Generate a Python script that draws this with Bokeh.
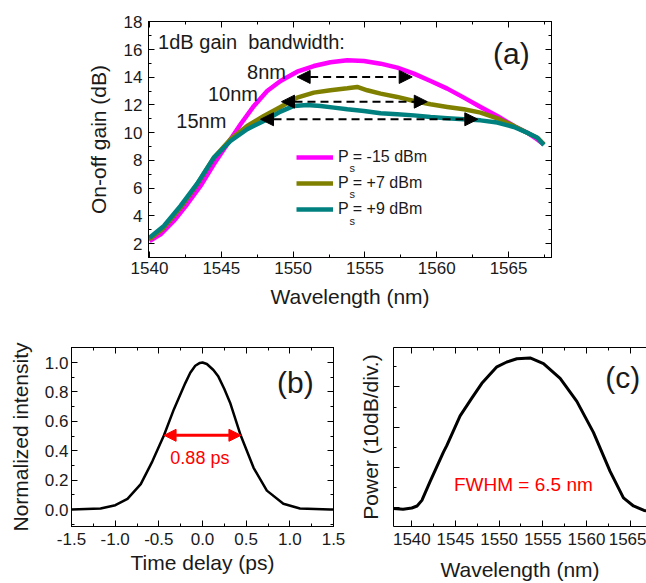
from bokeh.plotting import figure
from bokeh.models import (Range1d, LinearAxis, SingleIntervalTicker, Legend, LegendItem,
                          Label, Arrow, NormalHead, ColumnDataSource, PrintfTickFormatter)
from bokeh.layouts import column, row
from bokeh.embed import file_html
from bokeh.resources import INLINE

FONT = "Liberation Sans"
TXT = "#1a1a1a"

# ---------------- panel (a): on-off gain ----------------
wl_m15 = [1540.0, 1540.77, 1541.69, 1542.62, 1543.55, 1544.48, 1545.41, 1546.34, 1547.27,
          1548.19, 1549.12, 1550.28, 1551.44, 1552.60, 1553.77, 1554.93, 1556.09, 1557.25,
          1558.41, 1559.57, 1560.73, 1561.89, 1563.05, 1564.21, 1565.37, 1566.30, 1567.00, 1567.46]
gain_m15 = [2.19, 2.67, 3.63, 4.84, 6.16, 7.72, 9.16, 10.61, 11.93,
            13.01, 13.73, 14.40, 14.81, 15.08, 15.22, 15.17, 14.98, 14.69,
            14.26, 13.73, 13.18, 12.53, 11.86, 11.21, 10.49, 10.00, 9.52, 9.16]

wl_p7 = [1540.0, 1541.0, 1542.16, 1543.32, 1544.48, 1545.64, 1546.80, 1547.96, 1549.12, 1550.28,
         1551.44, 1552.60, 1553.77, 1554.46, 1555.16, 1556.09, 1557.25, 1558.41, 1559.57, 1560.73,
         1561.89, 1563.05, 1564.21, 1565.37, 1566.30, 1567.00, 1567.46]
gain_p7 = [2.31, 3.15, 4.60, 6.28, 8.20, 9.52, 10.49, 11.21, 11.86, 12.53,
           12.89, 13.06, 13.20, 13.30, 13.06, 12.82, 12.58, 12.29, 12.05, 11.86,
           11.69, 11.45, 11.04, 10.49, 10.00, 9.64, 9.16]

wl_p9 = [1540.0, 1541.0, 1542.16, 1543.32, 1544.48, 1545.64, 1546.80, 1547.96, 1549.12, 1550.05,
         1550.98, 1551.91, 1552.84, 1553.77, 1554.93, 1556.09, 1557.25, 1558.41, 1559.57, 1560.73,
         1561.89, 1563.05, 1564.21, 1565.37, 1566.30, 1567.00, 1567.46]
gain_p9 = [2.43, 3.27, 4.72, 6.33, 8.20, 9.40, 10.25, 10.85, 11.52, 11.93,
           12.00, 11.93, 11.81, 11.69, 11.57, 11.40, 11.33, 11.25, 11.13, 11.04,
           10.97, 10.89, 10.73, 10.41, 10.00, 9.64, 9.12]

series_labels = ["P = -15 dBm", "P = +7 dBm", "P = +9 dBm"]
series_colors = ["#ff00ff", "#808000", "#00807f"]

bw_labels = ["8nm", "10nm", "15nm"]
bw_level = [14.02, 12.24, 10.97]
bw_start = [1550.28, 1549.19, 1547.73]
bw_end = [1558.29, 1559.34, 1562.86]

# ---------------- panel (b): pulse ----------------
t_b = [-1.5, -1.167, -0.998, -0.859, -0.707, -0.574, -0.441, -0.327, -0.197, -0.14, -0.083,
       -0.03, 0.0, 0.05, 0.125, 0.182, 0.25, 0.316, 0.437, 0.585, 0.737, 0.926, 1.116, 1.46, 1.5]
i_b = [0.0, 0.007, 0.03, 0.073, 0.173, 0.328, 0.505, 0.683, 0.86, 0.93, 0.978,
       0.997, 1.0, 0.99, 0.949, 0.904, 0.82, 0.727, 0.505, 0.284, 0.129, 0.04, 0.007, 0.0, 0.0]
pulse_fwhm = 0.88
pulse_half = 0.505

# ---------------- panel (c): spectrum ----------------
wl_c = [1537.9, 1539.0, 1540.0, 1540.6, 1541.15, 1542.1, 1543.62, 1544.0, 1545.53, 1546.87,
        1548.02, 1549.74, 1550.88, 1552.03, 1553.55, 1555.08, 1556.99, 1558.9, 1560.8,
        1562.71, 1564.24, 1565.39, 1566.6, 1566.9]
pow_c = [-60.2, -60.4, -60.1, -59.6, -58.2, -53.5, -46.2, -44.6, -37.2, -32.8,
         -29.1, -25.0, -23.8, -23.0, -22.8, -24.2, -27.9, -33.6, -41.3,
         -51.0, -57.6, -59.6, -60.7, -60.8]


def base_fig(w, h, xr, yr, mbl, mbr, mbt, mbb):
    p = figure(width=w, height=h, x_range=Range1d(*xr), y_range=Range1d(*yr),
               output_backend="svg", toolbar_location=None,
               min_border_left=mbl, min_border_right=mbr,
               min_border_top=mbt, min_border_bottom=mbb)
    p.grid.visible = False
    p.outline_line_color = "black"
    p.outline_line_width = 1
    p.background_fill_color = "white"
    p.border_fill_color = "white"
    return p


def style_axis(ax, label_std=4, axis_std=6):
    ax.major_tick_in = 6
    ax.major_tick_out = 0
    ax.minor_tick_in = 3
    ax.minor_tick_out = 0
    ax.axis_line_color = "black"
    ax.major_tick_line_color = "black"
    ax.minor_tick_line_color = "black"
    ax.major_label_text_font = FONT
    ax.major_label_text_font_size = "17px"
    ax.major_label_text_color = TXT
    ax.major_label_standoff = label_std
    ax.axis_label_text_font = FONT
    ax.axis_label_text_font_size = "21px"
    ax.axis_label_text_font_style = "normal"
    ax.axis_label_text_color = TXT
    ax.axis_label_standoff = axis_std


def hide_labels(ax):
    ax.major_label_text_font_size = "1px"
    ax.major_label_text_color = None
    ax.major_label_standoff = 0


def mirror(p, xt, yt, right=True):
    top = LinearAxis(ticker=xt)
    style_axis(top, 0, 0)
    hide_labels(top)
    p.add_layout(top, "above")
    if right:
        r = LinearAxis(ticker=yt)
        style_axis(r, 0, 0)
        hide_labels(r)
        p.add_layout(r, "right")


# ================= panel (a) =================
pa = base_fig(568, 320, (1539.93, 1567.99), (1.0, 18.02), 148, 17, 21, 63)
xt_a = SingleIntervalTicker(interval=5, num_minor_ticks=2)
yt_a = SingleIntervalTicker(interval=2, num_minor_ticks=2)
pa.xaxis.ticker = xt_a
pa.yaxis.ticker = yt_a
style_axis(pa.xaxis[0], 4, 8)
style_axis(pa.yaxis[0], 6, 11)
pa.xaxis.axis_label = "Wavelength (nm)"
pa.yaxis.axis_label = "On-off gain (dB)"
mirror(pa, xt_a, yt_a)

renderers = []
for wl, g, c in [(wl_m15, gain_m15, series_colors[0]),
                 (wl_p7, gain_p7, series_colors[1]),
                 (wl_p9, gain_p9, series_colors[2])]:
    renderers.append(pa.line(wl, g, line_color=c, line_width=4.5, line_join="round"))

legend = Legend(items=[LegendItem(label=series_labels[i], renderers=[renderers[i]]) for i in range(3)],
                location=(148, 38), background_fill_alpha=0, border_line_alpha=0,
                padding=0, margin=0, spacing=6, glyph_width=37, glyph_height=20,
                label_height=20, label_standoff=5, label_text_font=FONT,
                label_text_font_size="16px", label_text_color=TXT)
pa.add_layout(legend)
for yy in [7.48, 5.57, 3.66]:
    pa.add_layout(Label(x=1554.12, y=yy, text="s", text_font=FONT, text_font_size="11px",
                        text_color=TXT, text_align="center", text_baseline="middle"))

bw_src = ColumnDataSource(dict(x0=bw_start, x1=bw_end, y=bw_level))
pa.add_layout(Arrow(source=bw_src, x_start="x0", y_start="y", x_end="x1", y_end="y",
                    line_color="black", line_width=2, line_dash="8 5",
                    start=NormalHead(size=13, fill_color="black", line_color="black"),
                    end=NormalHead(size=13, fill_color="black", line_color="black")))
for lab, lx, ly in zip(bw_labels, [1548.15, 1545.81, 1543.61], [14.37, 12.82, 10.84]):
    pa.add_layout(Label(x=lx, y=ly, text=lab, text_font=FONT, text_font_size="20px",
                        text_color=TXT, text_align="center", text_baseline="middle"))
pa.add_layout(Label(x=1540.6, y=16.54, text="1dB gain\u00a0 bandwidth:", text_font=FONT,
                    text_font_size="20px", text_color=TXT, text_align="left",
                    text_baseline="middle"))
pa.add_layout(Label(x=1565.2, y=15.74, text="(a)", text_font=FONT, text_font_size="30px",
                    text_color=TXT, text_align="center", text_baseline="middle"))

# ================= panel (b) =================
pb = base_fig(345, 263, (-1.5, 1.5), (-0.115, 1.102), 71, 12, 27, 53)
xt_b = SingleIntervalTicker(interval=0.5, num_minor_ticks=2)
yt_b = SingleIntervalTicker(interval=0.2, num_minor_ticks=2)
pb.xaxis.ticker = xt_b
pb.yaxis.ticker = yt_b
pb.xaxis.formatter = PrintfTickFormatter(format="%.1f")
pb.yaxis.formatter = PrintfTickFormatter(format="%.1f")
style_axis(pb.xaxis[0], 6, 3)
style_axis(pb.yaxis[0], 3, 10)
pb.xaxis.axis_label = "Time delay (ps)"
pb.yaxis.axis_label = "Normalized intensity"
mirror(pb, xt_b, yt_b)
pb.line(t_b, i_b, line_color="black", line_width=2.5, line_join="round")
pb.add_layout(Arrow(x_start=-pulse_fwhm / 2, y_start=pulse_half, x_end=pulse_fwhm / 2,
                    y_end=pulse_half, line_color="#ff0000", line_width=3,
                    start=NormalHead(size=12, fill_color="#ff0000", line_color="#ff0000"),
                    end=NormalHead(size=12, fill_color="#ff0000", line_color="#ff0000")))
pb.add_layout(Label(x=-0.03, y=0.35, text="0.88 ps", text_font=FONT, text_font_size="18px",
                    text_color="#ff0000", text_align="center", text_baseline="middle"))
pb.add_layout(Label(x=1.063, y=0.862, text="(b)", text_font=FONT, text_font_size="30px",
                    text_color=TXT, text_align="center", text_baseline="middle"))

# ================= panel (c) =================
pc = base_fig(301, 263, (1537.9, 1566.88), (-64.7, -20.2), 48, 0, 27, 53)
pc.outline_line_color = None
xt_c = SingleIntervalTicker(interval=5, num_minor_ticks=2)
yt_c = SingleIntervalTicker(interval=10, num_minor_ticks=2)
pc.xaxis.ticker = xt_c
pc.yaxis.ticker = yt_c
style_axis(pc.xaxis[0], 6, 10)
style_axis(pc.yaxis[0], 0, 12)
hide_labels(pc.yaxis[0])
pc.xaxis.axis_label = "Wavelength (nm)"
pc.yaxis.axis_label = "Power (10dB/div.)"
mirror(pc, xt_c, yt_c, right=False)
pc.line(wl_c, pow_c, line_color="black", line_width=3, line_join="round")
pc.add_layout(Label(x=1552.78, y=-54.15, text="FWHM = 6.5 nm", text_font=FONT,
                    text_font_size="19px", text_color="#ff0000", text_align="center",
                    text_baseline="middle"))
pc.add_layout(Label(x=1564.15, y=-27.7, text="(c)", text_font=FONT, text_font_size="30px",
                    text_color=TXT, text_align="center", text_baseline="middle"))

layout = column(pa, row(pb, pc, spacing=0), spacing=0)
open("out.html", "w").write(file_html(layout, INLINE))
